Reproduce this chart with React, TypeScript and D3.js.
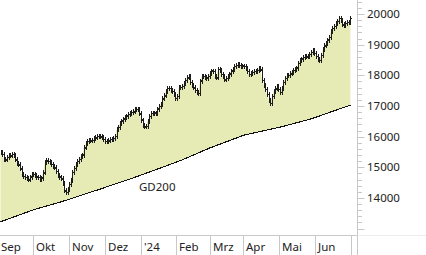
import React from 'react';
import { scaleLinear, line, range } from 'd3';

// daily closes, Sep 2023 .. Jun 2024
const closes = [
  15470, 15420, 15270, 15240, 15320, 15370, 15370, 15420, 15370, 15240,
  15130, 15080, 14950, 14780, 14700, 14670, 14640, 14590, 14680, 14750,
  14760, 14740, 14680, 14660, 14610, 14650, 14820, 15140, 15210, 15180,
  15140, 15090, 15030, 14980, 14870, 14730, 14680, 14620, 14470, 14230,
  14170, 14290, 14430, 14570, 14830, 14960, 15100, 15190, 15260, 15340,
  15400, 15630, 15780, 15840, 15860, 15860, 15880, 15930, 15960, 16000,
  16020, 15990, 15970, 15910, 15850, 15830, 15860, 15910, 15900, 15930,
  16010, 16220, 16300, 16430, 16510, 16570, 16640, 16670, 16720, 16760,
  16780, 16810, 16870, 16890, 16880, 16740, 16540, 16370, 16320, 16340,
  16510, 16660, 16750, 16770, 16770, 16770, 16900, 16980, 17060, 17230,
  17330, 17470, 17570, 17570, 17520, 17470, 17370, 17240, 17310, 17590,
  17610, 17640, 17720, 17830, 17920, 17950, 17760, 17670, 17590, 17500,
  17450, 17400, 17810, 17960, 17960, 17940, 17910, 17960, 18060, 18140,
  18120, 17970, 17920, 18190, 18170, 18020, 17960, 17850, 17900, 17950,
  18040, 18140, 18180, 18290, 18330, 18340, 18330, 18300, 18300, 18280,
  18210, 18120, 18020, 18050, 18100, 18130, 18120, 18150, 18230, 18180,
  17830, 17680, 17530, 17370, 17180, 17080, 17320, 17470, 17560, 17630,
  17530, 17450, 17580, 17760, 17900, 17980, 18000, 18050, 18110, 18150,
  18180, 18240, 18390, 18470, 18530, 18580, 18600, 18600, 18620, 18690,
  18750, 18810, 18710, 18610, 18510, 18490, 18640, 18830, 18960, 19050,
  19150, 19240, 19430, 19530, 19590, 19680, 19760, 19860, 19800, 19650,
  19630, 19690, 19720, 19740, 19860,
];

// GD200 (200-day average), sampled
const gdDays = [0, 20, 37, 61, 81, 98, 111, 128, 149, 171, 190, 214];
const gdValues = [13220, 13610, 13870, 14290, 14650, 14980, 15240, 15630, 16050, 16310, 16580, 17030];

const monthLabels = ['Sep', 'Okt', 'Nov', 'Dez', "'24", 'Feb', 'Mrz', 'Apr', 'Mai', 'Jun'];
const monthStarts = [0, 21, 43, 65, 87, 108, 129, 149, 171, 193, 215];

const yLabels = [14000, 15000, 16000, 17000, 18000, 19000, 20000];

const W = 426;
const H = 255;
const axisX = 357.5;
const axisY = 235.5;
const font = '"Noto Sans", "Liberation Sans", sans-serif';

const App: React.FC = () => {
  const x = scaleLinear().domain([0, 215]).range([0.5, 352]);
  const y = scaleLinear().domain([12790, 20460]).range([235, 0]);

  const closePts: [number, number][] = closes.map((c, i) => [x(i), y(c)]);
  const gdPts: [number, number][] = gdDays.map((d, i) => [x(d), y(gdValues[i])]);
  const poly = line()([...closePts, ...gdPts.slice().reverse()]) + 'Z';
  const gdPath = line()(gdPts) || '';

  const wick = 2.5; // px beyond open/close
  const minorTicks = range(13000, 20401, 200);

  return (
    <svg width={W} height={H} style={{ position: 'absolute', left: 0, top: 0, background: '#fff' }}>
      <path d={poly} fill="#e6eab4" stroke="none" />
      <path d={gdPath} fill="none" stroke="#111" strokeWidth={1.1} shapeRendering="crispEdges" />
      <text x={139} y={191} fontFamily={font} fontSize={11.5} fill="#222">GD200</text>

      <g stroke="#1c1c1c" strokeWidth={1.4} shapeRendering="crispEdges">
        {closes.map((c, i) => {
          const o = i === 0 ? c : closes[i - 1];
          const yt = Math.min(y(o), y(c)) - wick;
          const yb = Math.max(y(o), y(c)) + wick;
          const xi = Math.round(x(i)) + 0.5;
          return (
            <g key={i}>
              <line x1={xi} x2={xi} y1={yt} y2={yb} />
              <line x1={xi - 1} x2={xi} y1={y(o)} y2={y(o)} />
              <line x1={xi} x2={xi + 1.2} y1={y(c)} y2={y(c)} />
            </g>
          );
        })}
      </g>

      {/* right axis */}
      <line x1={axisX} x2={axisX} y1={0} y2={H} stroke="#c8c8c8" />
      {minorTicks.map(t => {
        const major = t % 1000 === 0;
        const ty = Math.round(y(t)) + 0.5;
        return (
          <line key={t} x1={axisX} x2={axisX + (major ? 7 : 4.5)} y1={ty} y2={ty} stroke="#c8c8c8" />
        );
      })}
      {yLabels.map(t => (
        <text key={t} x={367} y={y(t) + 4} fontFamily={font} fontSize={11.5} fill="#222">{t}</text>
      ))}

      {/* bottom axis */}
      <line x1={0} x2={axisX} y1={axisY} y2={axisY} stroke="#c8c8c8" />
      <line x1={axisX} x2={W} y1={axisY} y2={axisY} stroke="#eeeeee" />
      {monthStarts.slice(1).map(m => {
        const sx = Math.floor(x(m)) - 0.5;
        return <line key={m} x1={sx} x2={sx} y1={axisY} y2={H} stroke="#c8c8c8" />;
      })}
      {monthLabels.map((lab, i) => (
        <text key={lab} x={i === 0 ? 1 : Math.floor(x(monthStarts[i])) + 2} y={251}
          fontFamily={font} fontSize={11.5} fill="#222">{lab}</text>
      ))}
    </svg>
  );
};

export default App;
